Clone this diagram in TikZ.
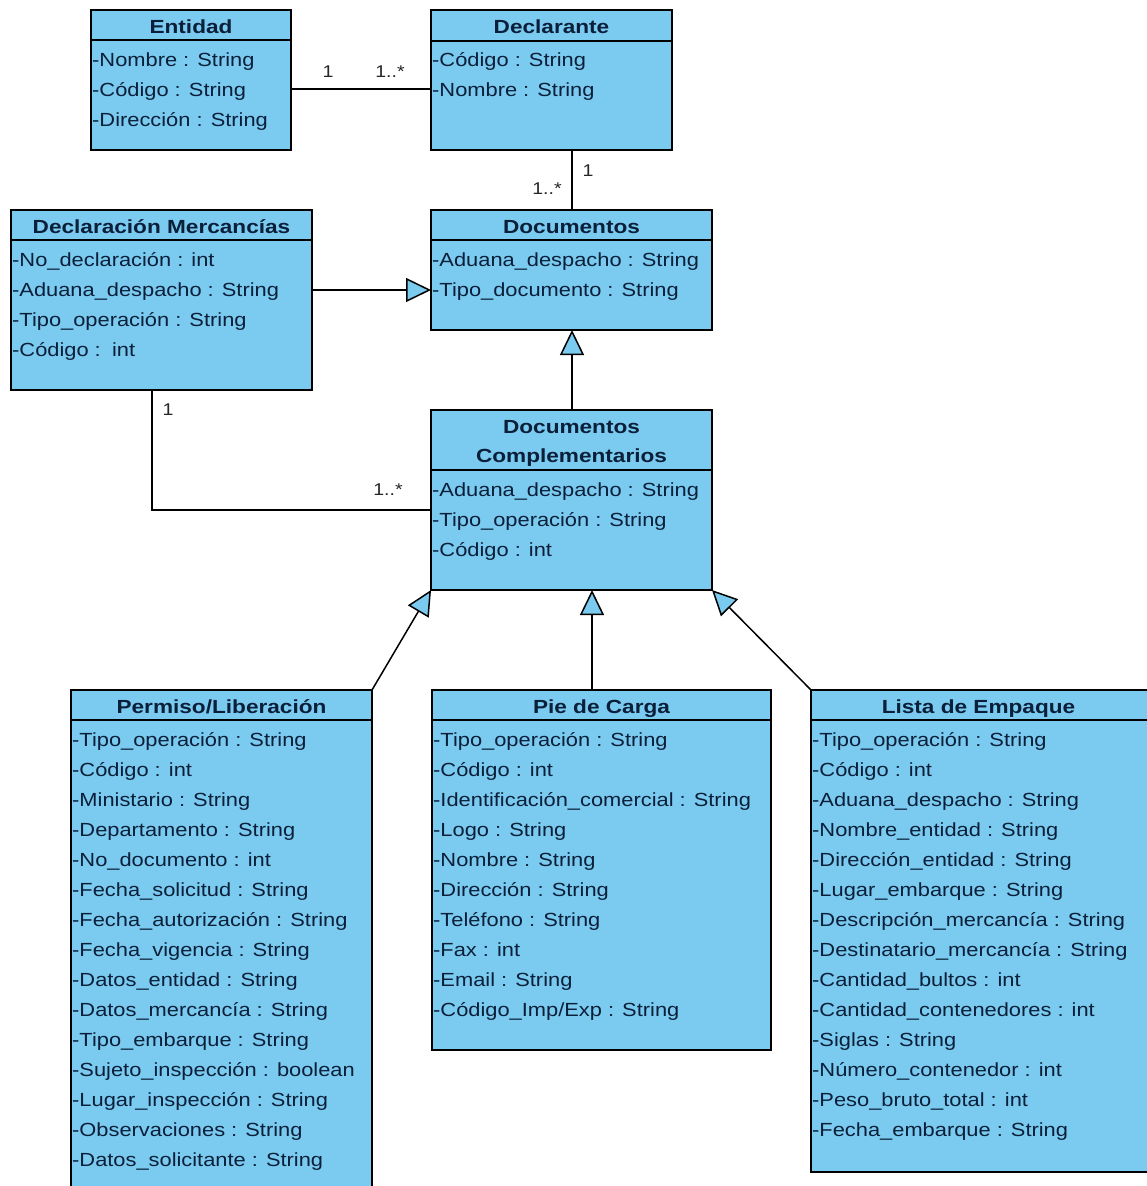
\documentclass[tikz,border=0pt]{standalone}
\usepackage{fontspec}
\setmainfont{Liberation Sans}
\newfontfamily\attrfont[FakeStretch=1.15]{Liberation Sans}
\newfontfamily\titlefont[FakeStretch=1.19]{Liberation Sans}
\usetikzlibrary{arrows.meta}

\definecolor{boxblue}{HTML}{7ACBEF}
\definecolor{inkblue}{HTML}{0B1F3A}

\tikzset{
  classbox/.style={draw=black, fill=boxblue, line width=1.6pt, anchor=north west,
                   inner sep=0pt, outer sep=0pt},
  divider/.style={draw=black, line width=1.4pt},
  ctitle/.style={anchor=base, inner sep=0pt, text=inkblue,
                 font=\titlefont\fontsize{19}{21}\selectfont\bfseries},
  attr/.style={anchor=base west, inner sep=0pt, text=inkblue,
               font=\attrfont\fontsize{19}{21}\selectfont},
  mult/.style={anchor=center, inner sep=0pt, text=black!85,
               font=\attrfont\fontsize{17}{20}\selectfont},
  assoc/.style={draw=black, line width=1.5pt},
  gen/.style={draw=black, line width=1.5pt,
              -{Triangle[fill=boxblue, length=25pt, width=24pt, line width=1.5pt]}},
}

% one class: name, left, top, right, bottom, divider y
\newcommand{\umlbox}[6]{%
  \node[classbox, minimum width={#4-#2}, minimum height={#5-#3}] (#1) at (#2,#3) {};
  \draw[divider] (#2,#6) -- (#4,#6);
}

\begin{document}
\begin{tikzpicture}[x=1pt, y=-1pt]
\useasboundingbox (0,0) rectangle (1146,1186);
\fill[white] (0,0) rectangle (1146,1186);

% ---- Entidad
\umlbox{ent}{91}{10}{291}{150}{40}
\node[ctitle] (entT) at (191,33) {Entidad};
\node[attr] (ent1) at (92,66) {-Nombre : String};
\node[attr] (ent2) at (92,96) {-Código : String};
\node[attr] (ent3) at (92,126) {-Dirección : String};

% ---- Declarante
\umlbox{dec}{431}{10}{672}{150}{41}
\node[ctitle] (decT) at (551.5,33) {Declarante};
\node[attr] (dec1) at (432,66) {-Código : String};
\node[attr] (dec2) at (432,96) {-Nombre : String};

% ---- Documentos
\umlbox{doc}{431}{210}{712}{330}{240}
\node[ctitle] (docT) at (571.5,233) {Documentos};
\node[attr] (doc1) at (432,266) {-Aduana\_despacho : String};
\node[attr] (doc2) at (432,296) {-Tipo\_documento : String};

% ---- Declaración Mercancías
\umlbox{dm}{11}{210}{312}{390}{240}
\node[ctitle] (dmT) at (161.5,233) {Declaración Mercancías};
\node[attr] (dm1) at (12,266) {-No\_declaración : int};
\node[attr] (dm2) at (12,296) {-Aduana\_despacho : String};
\node[attr] (dm3) at (12,326) {-Tipo\_operación : String};
\node[attr] (dm4) at (12,356) {-Código : \,int};

% ---- Documentos Complementarios
\umlbox{dc}{431}{410}{712}{590}{470}
\node[ctitle] (dcT1) at (571.5,433) {Documentos};
\node[ctitle] (dcT2) at (571.5,462) {Complementarios};
\node[attr] (dc1) at (432,496) {-Aduana\_despacho : String};
\node[attr] (dc2) at (432,526) {-Tipo\_operación : String};
\node[attr] (dc3) at (432,556) {-Código : int};

% ---- Permiso/Liberación
\umlbox{per}{71}{690}{372}{1200}{720}
\node[ctitle] (perT) at (221.5,713) {Permiso/Liberación};
\foreach \t [count=\i from 0] in {%
  -Tipo\_operación : String,
  -Código : int,
  -Ministario : String,
  -Departamento : String,
  -No\_documento : int,
  -Fecha\_solicitud : String,
  -Fecha\_autorización : String,
  -Fecha\_vigencia : String,
  -Datos\_entidad : String,
  -Datos\_mercancía : String,
  -Tipo\_embarque : String,
  -Sujeto\_inspección : boolean,
  -Lugar\_inspección : String,
  -Observaciones : String,
  -Datos\_solicitante : String}
  \node[attr] (per\i) at (72,746+30*\i) {\t};

% ---- Pie de Carga
\umlbox{pie}{432}{690}{771}{1050}{720}
\node[ctitle] (pieT) at (601.5,713) {Pie de Carga};
\foreach \t [count=\i from 0] in {%
  -Tipo\_operación : String,
  -Código : int,
  -Identificación\_comercial : String,
  -Logo : String,
  -Nombre : String,
  -Dirección : String,
  -Teléfono : String,
  -Fax : int,
  -Email : String,
  -Código\_Imp/Exp : String}
  \node[attr] (pie\i) at (433,746+30*\i) {\t};

% ---- Lista de Empaque
\umlbox{lis}{811}{690}{1152}{1172}{720}
\node[ctitle] (lisT) at (978.5,713) {Lista de Empaque};
\foreach \t [count=\i from 0] in {%
  -Tipo\_operación : String,
  -Código : int,
  -Aduana\_despacho : String,
  -Nombre\_entidad : String,
  -Dirección\_entidad : String,
  -Lugar\_embarque : String,
  -Descripción\_mercancía : String,
  -Destinatario\_mercancía : String,
  -Cantidad\_bultos : int,
  -Cantidad\_contenedores : int,
  -Siglas : String,
  -Número\_contenedor : int,
  -Peso\_bruto\_total : int,
  -Fecha\_embarque : String}
  \node[attr] (lis\i) at (812,746+30*\i) {\t};

% ---- associations
\draw[assoc] (ent.east |- 0,89) -- (dec.west |- 0,89);
\node[mult] (m1) at (328,72) {1};
\node[mult] (m2) at (390,72) {1..*};

\draw[assoc] (dec.south -| 572,0) -- (doc.north -| 572,0);
\node[mult] (m3) at (588,171) {1};
\node[mult] (m4) at (547,189) {1..*};

\coordinate (bend) at (152,510);
\draw[assoc] (dm.south -| bend) -- (bend) -- (dc.west |- bend);
\node[mult] (m5) at (168,410) {1};
\node[mult] (m6) at (388,490) {1..*};

% ---- generalizations
\draw[gen] (dm.east |- 0,290) -- (doc.west |- 0,290);
\draw[gen] (dc.north -| 572,0) -- (doc.south -| 572,0);
\draw[gen] (per.north east) -- (dc.south west);
\draw[gen] (pie.north -| 592,0) -- (dc.south -| 592,0);
\draw[gen] (lis.north west) -- (dc.south east);
\end{tikzpicture}
\end{document}
